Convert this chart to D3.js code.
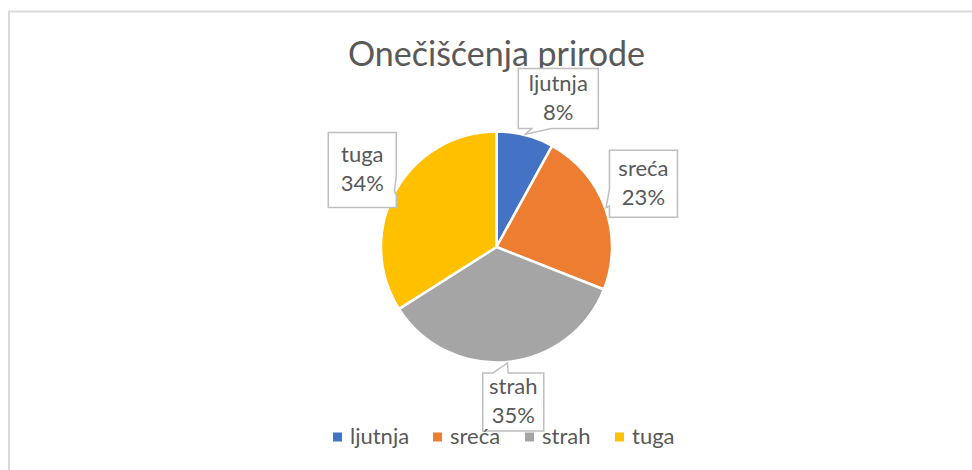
<!DOCTYPE html>
<html>
<head>
<meta charset="utf-8">
<script src="https://cdn.jsdelivr.net/npm/d3@7"></script>
<style>
  html, body { margin: 0; padding: 0; background: #fff; }
  svg { display: block; }
</style>
</head>
<body>
<svg id="chart" width="972" height="470"></svg>
<script>
// Chart data
const title = "Onečišćenja prirode";
const categories = ["ljutnja", "sreća", "strah", "tuga"];
const values = [8, 23, 35, 34];
const colors = ["#4472C4", "#ED7D31", "#A5A5A5", "#FFC000"];

// Data label callout layout: nudge from the polar anchor, and box size
const labelNudge = [[22, 6.5], [-3.6, -9], [1.7, -4.4], [6, 0]];
const labelBox = [[80, 60], [68, 67], [61, 58], [68, 75]];

const W = 972, H = 470;
const cx = 496.5, cy = 247, R = 115.5;
const labelR = 160, tipR = 116.5;
const font = "Lato, 'Open Sans', sans-serif";
const textColor = "#595959";

const svg = d3.select("#chart");

// Chart area frame
svg.append("rect")
  .attr("x", 9).attr("y", 11.5)
  .attr("width", W + 20).attr("height", H + 20)
  .attr("fill", "#fff")
  .attr("stroke", "#d9d9d9").attr("stroke-width", 2);

// Title
svg.append("text")
  .attr("x", cx).attr("y", 66)
  .attr("text-anchor", "middle")
  .attr("font-family", font).attr("font-size", 34)
  .attr("fill", textColor)
  .text(title);

// Pie
const pie = d3.pie().sort(null).value(d => d.value);
const arcs = pie(categories.map((c, i) => ({ name: c, value: values[i], color: colors[i], i })));
const arc = d3.arc().innerRadius(0).outerRadius(R);
const total = d3.sum(values);

const g = svg.append("g").attr("transform", `translate(${cx},${cy})`);
g.selectAll("path.slice")
  .data(arcs)
  .join("path")
  .attr("class", "slice")
  .attr("d", arc)
  .attr("fill", d => d.data.color)
  .attr("stroke", "#fff")
  .attr("stroke-width", 2.5)
  .attr("stroke-linejoin", "round");

// Rectangular callout with wedge, following the wedgeRectCallout geometry
function calloutPath(x, y, w, h, tx, ty) {
  const hc = x + w / 2, vc = y + h / 2;
  const dx = tx - hc, dy = ty - vc;
  const dq = dx * h / w;
  const horizontalSide = Math.abs(dy) > Math.abs(dq); // wedge on top/bottom
  const xg1 = tx > hc ? 7 : 2, xg2 = tx > hc ? 10 : 5;
  const yg1 = ty > vc ? 7 : 2, yg2 = ty > vc ? 10 : 5;
  const x1 = x + w * xg1 / 12, x2 = x + w * xg2 / 12;
  const y1 = y + h * yg1 / 12, y2 = y + h * yg2 / 12;
  const p = d3.path();
  p.moveTo(x, y);
  if (horizontalSide && dy < 0) { p.lineTo(x1, y); p.lineTo(tx, ty); p.lineTo(x2, y); }
  p.lineTo(x + w, y);
  if (!horizontalSide && dx > 0) { p.lineTo(x + w, y1); p.lineTo(tx, ty); p.lineTo(x + w, y2); }
  p.lineTo(x + w, y + h);
  if (horizontalSide && dy > 0) { p.lineTo(x2, y + h); p.lineTo(tx, ty); p.lineTo(x1, y + h); }
  p.lineTo(x, y + h);
  if (!horizontalSide && dx < 0) { p.lineTo(x, y2); p.lineTo(tx, ty); p.lineTo(x, y1); }
  p.closePath();
  return p.toString();
}

const labels = svg.append("g");
arcs.forEach((d, i) => {
  const mid = (d.startAngle + d.endAngle) / 2;
  const ax = cx + labelR * Math.sin(mid) + labelNudge[i][0];
  const ay = cy - labelR * Math.cos(mid) + labelNudge[i][1];
  const [bw, bh] = labelBox[i];
  const bx = ax - bw / 2, by = ay - bh / 2;
  const tx = cx + tipR * Math.sin(mid), ty = cy - tipR * Math.cos(mid);
  labels.append("path")
    .attr("d", calloutPath(bx, by, bw, bh, tx, ty))
    .attr("fill", "#fff")
    .attr("stroke", "#bfbfbf")
    .attr("stroke-width", 1.5);
  const t = labels.append("text")
    .attr("text-anchor", "middle")
    .attr("font-family", font).attr("font-size", 22)
    .attr("fill", textColor);
  t.append("tspan").attr("x", ax).attr("y", ay - 7.5).text(d.data.name);
  t.append("tspan").attr("x", ax).attr("y", ay + 21.5)
    .text(Math.round(d.data.value / total * 100) + "%");
});

// Legend
const legendX = [333, 433, 525, 615];
const legend = svg.append("g");
categories.forEach((c, i) => {
  legend.append("rect")
    .attr("x", legendX[i]).attr("y", 432.5)
    .attr("width", 9).attr("height", 9)
    .attr("fill", colors[i]);
  legend.append("text")
    .attr("x", legendX[i] + 17).attr("y", 444)
    .attr("font-family", font).attr("font-size", 22)
    .attr("fill", textColor)
    .text(c);
});
</script>
</body>
</html>
